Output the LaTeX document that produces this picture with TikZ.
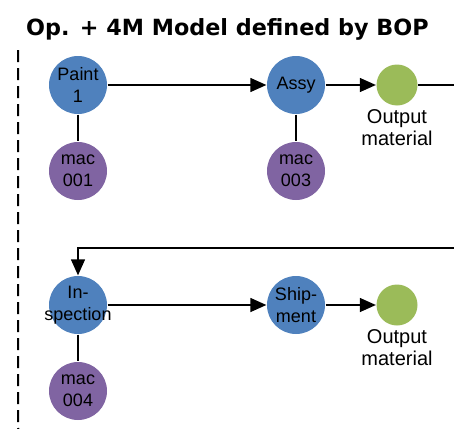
\documentclass[tikz,border=0pt]{standalone}
\usepackage{fontspec}
\setmainfont{Liberation Sans}
\newfontfamily\titlefont{DejaVu Sans}
\usetikzlibrary{positioning,arrows.meta}
\definecolor{opblue}{HTML}{4F81BD}
\definecolor{macpurple}{HTML}{8064A2}
\definecolor{outgreen}{HTML}{9BBB59}

\begin{document}
\begin{tikzpicture}[x=1pt,y=-1pt,->,>={Triangle[length=16pt,width=14pt]},
                    line width=1.3pt,node distance=218pt,
                    font=\fontsize{18}{22}\selectfont]
  \tikzstyle{op}=[circle, fill=opblue, minimum size=58pt, inner sep=0pt, align=center]
  \tikzstyle{mac}=[circle, fill=macpurple, minimum size=58pt, inner sep=0pt, align=center]
  \tikzstyle{outmat}=[circle, fill=outgreen, minimum size=41pt, inner sep=0pt]
  \tikzstyle{outlabel}=[inner sep=0pt, align=center, font=\fontsize{20}{22}\selectfont]

  \useasboundingbox (0,0) rectangle (454,428);
  \clip (0,0) rectangle (454,428);

  % frame of the BOP side
  \draw[-, line width=2pt, dash pattern=on 12pt off 6pt, rounded corners=14pt]
    (18,50) -- (18,440) -- (80,440);

  \node[font=\titlefont\bfseries\fontsize{22.3}{26}\selectfont, anchor=base]
    (title) at (227.5,35.5) {Op. + 4M Model defined by BOP};

  % first line
  \node[op] (paint) at (78,85) {Paint\\1};
  \node[op] (assy) [right of=paint] {Assy};
  \node[outmat] (out1) [right of=assy, node distance=101pt] {};
  \node[outlabel] (out1lbl) [below=2.5pt of out1] {Output\\material};
  \node[mac] (mac1) [below of=paint, node distance=86pt] {mac\\001};
  \node[mac] (mac3) [below of=assy, node distance=86pt] {mac\\003};

  % second line (text of insp is wider than its circle)
  \node[op, inner sep=-12pt] (insp) at (78,305) {In-\\spection};
  \node[op] (ship) [right of=insp] {Ship-\\ment};
  \node[outmat] (out2) [right of=ship, node distance=101pt] {};
  \node[outlabel] (out2lbl) [below=2.5pt of out2] {Output\\material};
  \node[mac] (mac4) [below of=insp, node distance=86pt] {mac\\004};

  \coordinate (edgeA) at (456,85);
  \coordinate (edgeB) at (456,248);

  \path (paint) edge (assy)
                edge[-] (mac1);
  \path (assy) edge (out1)
               edge[-] (mac3);
  \path (out1) edge[-] (edgeA);
  \draw (edgeB) -| (insp);
  \path (insp) edge (ship)
               edge[-] (mac4);
  \path (ship) edge (out2);
\end{tikzpicture}
\end{document}
